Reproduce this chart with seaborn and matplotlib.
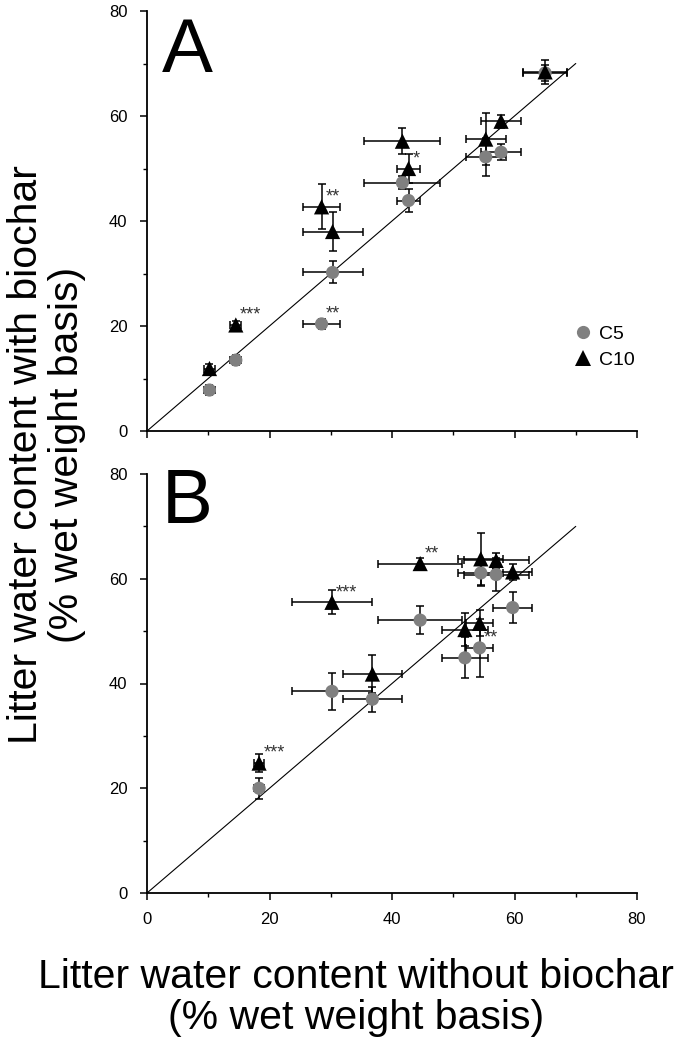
import numpy as np
import pandas as pd
import matplotlib
matplotlib.use("Agg")
import matplotlib.pyplot as plt
import seaborn as sns
from matplotlib.ticker import MultipleLocator
from matplotlib.lines import Line2D

# ---------------- data ----------------
series_names = ["C5", "C10"]

# Panel A
a_x = [10.2, 14.5, 28.5, 30.3, 41.7, 42.7, 55.3, 57.8, 65.0]
a_xerr = [0.9, 0.9, 3.0, 4.9, 6.2, 1.9, 3.3, 3.3, 3.6]
a_c5 = [7.8, 13.5, 20.4, 30.2, 47.3, 43.9, 52.2, 53.1, 68.2]
a_c5_err = [1.0, 1.0, 1.0, 2.1, 1.2, 2.2, 3.7, 1.5, 1.5]
a_c10 = [11.9, 20.2, 42.7, 38.0, 55.2, 50.0, 55.6, 59.0, 68.4]
a_c10_err = [0.8, 0.8, 4.3, 3.8, 2.5, 2.8, 4.9, 1.2, 2.3]
a_c5_sig = ["", "", "**", "", "", "", "", "", ""]
a_c10_sig = ["", "***", "**", "", "", "*", "", "", ""]

# Panel B
b_x = [18.3, 30.2, 36.8, 44.6, 51.9, 54.3, 54.5, 57.0, 59.7]
b_xerr = [0.8, 6.5, 4.8, 6.9, 3.7, 2.2, 3.7, 5.3, 3.2]
b_c5 = [20.0, 38.5, 37.0, 52.1, 44.9, 46.8, 61.1, 60.8, 54.5]
b_c5_err = [2.0, 3.6, 2.4, 2.7, 3.9, 5.6, 2.5, 3.2, 3.0]
b_c10 = [24.8, 55.5, 41.8, 62.9, 50.3, 51.5, 63.8, 63.5, 61.3]
b_c10_err = [1.7, 2.3, 3.6, 1.0, 3.2, 2.5, 5.0, 1.5, 1.5]
b_c5_sig = ["", "", "", "", "", "**", "", "", ""]
b_c10_sig = ["***", "***", "", "**", "", "", "", "", ""]

line_x = [0, 70]
line_y = [0, 70]

axis_ticks = [0, 20, 40, 60, 80]

# ---------------- style ----------------
sns.set_style("ticks")
plt.rcParams["font.family"] = ["Liberation Sans", "DejaVu Sans"]
plt.rcParams["text.color"] = "black"

colors = {"C5": "#808080", "C10": "#000000"}
markers = {"C5": "o", "C10": "^"}
sizes = {"C5": 90, "C10": 120}

fig = plt.figure(figsize=(6.85, 10.4), dpi=100)
axA = fig.add_axes([147 / 685, 1 - 431 / 1040, 490 / 685, 420 / 1040])
axB = fig.add_axes([147 / 685, 1 - 893 / 1040, 490 / 685, 419 / 1040])


def draw_panel(ax, x, xerr, c5, c5err, c10, c10err, c5sig, c10sig, letter, lpos, show_xlabels):
    sns.lineplot(x=line_x, y=line_y, ax=ax, color="black", linewidth=0.8, zorder=1)
    for name, y, yerr, sig in (("C5", c5, c5err, c5sig), ("C10", c10, c10err, c10sig)):
        ax.errorbar(x, y, xerr=xerr, yerr=yerr, fmt="none", ecolor="black",
                    elinewidth=1.1, capsize=3, capthick=1.1, zorder=2)
        df = pd.DataFrame({"x": x, "y": y})
        sns.scatterplot(data=df, x="x", y="y", ax=ax, marker=markers[name],
                        color=colors[name], s=sizes[name], edgecolor="none",
                        linewidth=0, zorder=3, legend=False)
        for xi, yi, s in zip(x, y, sig):
            if s:
                ax.annotate(s, (xi, yi), xytext=(3, 7), textcoords="offset points",
                            fontsize=13, color="#333333", ha="left", va="center")
    ax.set_xlim(0, 80)
    ax.set_ylim(0, 80)
    ax.set_xticks(axis_ticks)
    ax.set_yticks(axis_ticks)
    ax.xaxis.set_minor_locator(MultipleLocator(10))
    ax.yaxis.set_minor_locator(MultipleLocator(10))
    ax.tick_params(which="major", direction="out", length=5, width=1.1,
                   labelsize=12, pad=9, color="black", labelcolor="black")
    ax.tick_params(which="minor", direction="out", length=3, width=1.0, color="black")
    if not show_xlabels:
        ax.tick_params(axis="x", labelbottom=False)
    ax.set_xlabel("")
    ax.set_ylabel("")
    for sp in ("top", "right"):
        ax.spines[sp].set_visible(False)
    for sp in ("left", "bottom"):
        ax.spines[sp].set_linewidth(1.3)
        ax.spines[sp].set_color("black")
    ax.set_facecolor("white")
    ax.text(lpos[0], lpos[1], letter, transform=ax.transAxes, fontsize=55,
            va="baseline", ha="left", color="black")


draw_panel(axA, a_x, a_xerr, a_c5, a_c5_err, a_c10, a_c10_err, a_c5_sig, a_c10_sig,
           "A", (0.030, 0.855), False)
draw_panel(axB, b_x, b_xerr, b_c5, b_c5_err, b_c10, b_c10_err, b_c5_sig, b_c10_sig,
           "B", (0.030, 0.883), True)

handles = [Line2D([], [], linestyle="none", marker=markers[n], color=colors[n],
                  markersize=9.5 if n == "C5" else 11, markeredgewidth=0) for n in series_names]
leg = axA.legend(handles, series_names, loc="center left", bbox_to_anchor=(0.855, 0.20),
                 frameon=False, fontsize=14, handletextpad=0.3, labelspacing=0.4,
                 handlelength=1.0, borderaxespad=0)
for t in leg.get_texts():
    t.set_color("black")

fig.text(0.52, 0.041, "Litter water content without biochar\n(% wet weight basis)",
         ha="center", va="center", fontsize=29.5, linespacing=1.1, color="black")
fig.text(0.068, 0.563, "Litter water content with biochar\n(% wet weight basis)",
         ha="center", va="center", fontsize=29.5, rotation=90, linespacing=1.1,
         color="black")

fig.savefig("out.png", dpi=100, facecolor="white")
